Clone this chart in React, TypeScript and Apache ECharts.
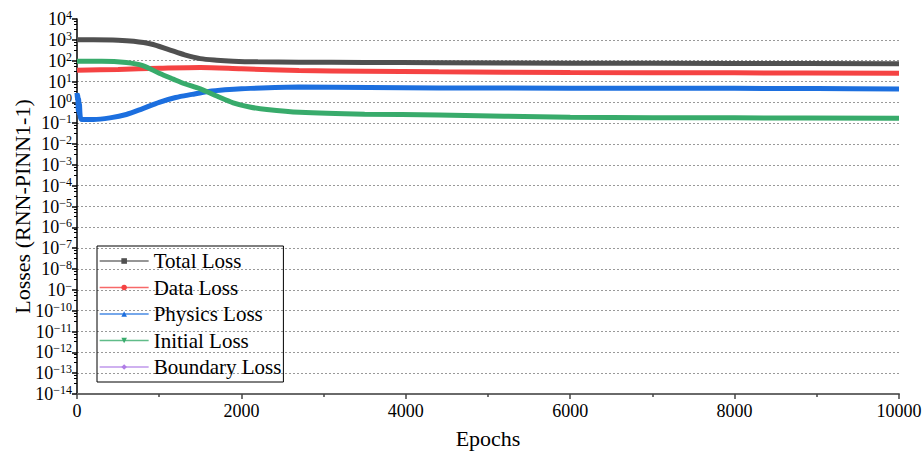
import React, { useEffect, useRef } from "react";
import * as echarts from "echarts";

const seriesNames = ["Total Loss", "Data Loss", "Physics Loss", "Initial Loss", "Boundary Loss"];
const seriesColors = ["#505050", "#f54343", "#1c6fdf", "#38ab6b", "#b07de6"];

const xTicks = [0, 2000, 4000, 6000, 8000, 10000];
// superscript text shown for each decade label (10^-9 is printed truncated in the source)
const yExponentLabels: Record<string, string> = {
  "4": "4", "3": "3", "2": "2", "1": "1", "0": "0",
  "-1": "−1", "-2": "−2", "-3": "−3", "-4": "−4", "-5": "−5", "-6": "−6",
  "-7": "−7", "-8": "−8", "-9": "−", "-10": "−10", "-11": "−11", "-12": "−12",
  "-13": "−13", "-14": "−14",
};

const totalEpochs = [0, 200, 500, 690, 900, 1100, 1310, 1500, 1700, 1900, 2200, 2700, 3500, 4400, 6000, 8000, 10000];
const totalValues = [1000, 1000, 960, 850, 630, 360, 190, 125, 105, 95, 88, 84, 82, 80, 76, 73, 72];

const dataEpochs = [0, 500, 1000, 1500, 2000, 2700, 3500, 4400, 6000, 8000, 10000];
const dataValues = [35, 38, 43, 47, 41, 34, 31, 29, 27, 26, 25];

const physicsEpochs = [0, 5, 10, 15, 20, 25, 30, 40, 60, 200, 400, 600, 800, 1000, 1200, 1400, 1600, 1800, 2000, 2700, 4400, 6000, 8000, 9000, 10000];
const physicsValues = [2.8, 1.2, 2.2, 0.4, 1.5, 0.3, 0.8, 0.2, 0.15, 0.15, 0.18, 0.26, 0.5, 1.0, 1.7, 2.4, 3.3, 4.0, 4.5, 5.4, 4.9, 4.8, 4.7, 4.6, 4.4];

const initialEpochs = [0, 300, 600, 800, 1000, 1170, 1300, 1500, 1700, 1900, 2100, 2310, 2710, 3500, 4400, 6000, 8000, 10000];
const initialValues = [95, 95, 82, 58, 25, 13, 8, 4.4, 2, 0.95, 0.6, 0.45, 0.33, 0.27, 0.25, 0.19, 0.18, 0.17];

const boundaryEpochs: number[] = [];
const boundaryValues: number[] = [];

const pairs = (xs: number[], ys: number[]) => xs.map((x, i) => [x, ys[i]]);

const symbols = ["rect", "circle", "triangle", "path://M0,0 L10,0 L5,10 Z", "diamond"];

export default function App() {
  const ref = useRef<HTMLDivElement>(null);
  useEffect(() => {
    document.body.style.margin = "0";
    const chart = echarts.init(ref.current!, undefined, { renderer: "svg" });
    const allData = [
      pairs(totalEpochs, totalValues),
      pairs(dataEpochs, dataValues),
      pairs(physicsEpochs, physicsValues),
      pairs(initialEpochs, initialValues),
      pairs(boundaryEpochs, boundaryValues),
    ];
    const font = "Liberation Serif";
    chart.setOption({
      animation: false,
      backgroundColor: "#ffffff",
      textStyle: { fontFamily: font },
      grid: { left: 77, right: 23, top: 19, bottom: 62, containLabel: false, outerBoundsMode: "none" },
      legend: {
        orient: "vertical",
        left: 97,
        top: 246,
        data: seriesNames,
        itemWidth: 49,
        itemHeight: 7,
        itemGap: 5.5,
        padding: [4.5, 2, 4.5, 2],
        borderColor: "#000",
        borderWidth: 1,
        lineStyle: { width: 1.3, opacity: 0.8 },
        textStyle: { fontFamily: font, fontSize: 21, color: "#000", lineHeight: 21 },
      },
      xAxis: {
        type: "value",
        min: 0,
        max: 10000,
        interval: 2000,
        name: "Epochs",
        nameLocation: "middle",
        nameGap: 33,
        nameMoveOverlap: false,
        nameTextStyle: { fontFamily: font, fontSize: 22, color: "#000" },
        axisLine: { show: true, lineStyle: { color: "#6a6a6a", width: 2 } },
        axisTick: { show: true, length: 5, lineStyle: { color: "#444", width: 1.5 } },
        minorTick: { show: true, splitNumber: 2, length: 3, lineStyle: { color: "#444", width: 1.5 } },
        axisLabel: {
          fontFamily: font, fontSize: 18, color: "#000", margin: 8,
          formatter: (v: number) => (xTicks.includes(v) ? String(v) : ""),
        },
        splitLine: { show: false },
      },
      yAxis: {
        type: "log",
        logBase: 10,
        min: 1e-14,
        max: 1e4,
        interval: 1,
        name: "Losses (RNN-PINN1-1)",
        nameLocation: "middle",
        nameGap: 44,
        nameMoveOverlap: false,
        nameTextStyle: { fontFamily: font, fontSize: 22, color: "#000" },
        axisLine: { show: true, lineStyle: { color: "#000", width: 1.5 } },
        axisTick: { show: true, length: 5, lineStyle: { color: "#000", width: 1.5 } },
        minorTick: { show: true, splitNumber: 4, length: 3, lineStyle: { color: "#000", width: 1 } },
        axisLabel: {
          margin: 5,
          formatter: (v: number) => {
            const e = String(Math.round(Math.log10(v)));
            return `{b|10}{s|${yExponentLabels[e] ?? e}}`;
          },
          rich: {
            b: { fontFamily: font, fontSize: 18, color: "#000", lineHeight: 20 },
            s: { fontFamily: font, fontSize: 12, color: "#000", lineHeight: 20, verticalAlign: "top", padding: [0, 0, 7, 0] },
          },
        },
        splitLine: {
          show: true,
          showMaxLine: false,
          lineStyle: { color: "#999", type: [2, 2], width: 1 },
        },
      },
      series: seriesNames.map((name, i) => ({
        name,
        type: "line",
        data: allData[i],
        color: seriesColors[i],
        symbol: symbols[i],
        symbolSize: 6,
        showSymbol: false,
        smooth: 0.3,
        lineStyle: { width: 5, color: seriesColors[i] },
        itemStyle: { color: seriesColors[i] },
        z: 2 + i,
      })),
    });
    return () => chart.dispose();
  }, []);
  return <div ref={ref} style={{ width: 922, height: 456 }} />;
}
